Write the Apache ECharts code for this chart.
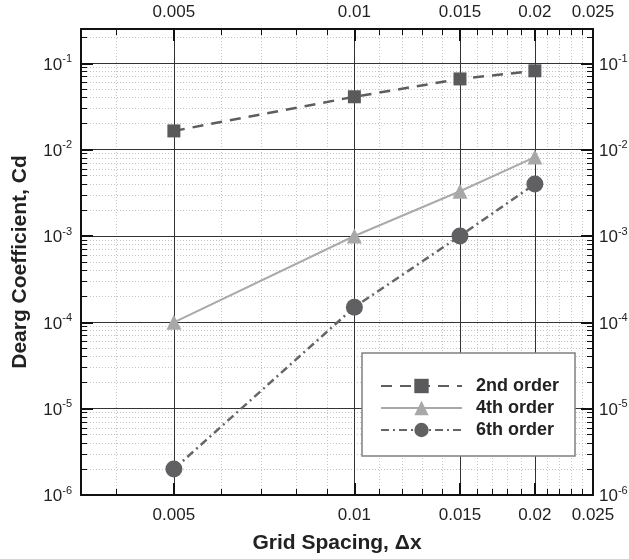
<!DOCTYPE html>
<html>
<head>
<meta charset="utf-8">
<script src="https://cdn.jsdelivr.net/npm/echarts@6/dist/echarts.min.js"></script>
<style>
  html, body { margin: 0; padding: 0; background: #fff; }
  #chart { width: 629px; height: 559px; }
</style>
</head>
<body>
<div id="chart"></div>
<script>
// ---- data ----
const gridSpacing = [0.005, 0.01, 0.015, 0.02];
const cd2nd = [0.0165, 0.041, 0.066, 0.082];
const cd4th = [0.0001, 0.001, 0.0033, 0.0082];
const cd6th = [0.000002, 0.00015, 0.001, 0.004];
const seriesNames = ['2nd order', '4th order', '6th order'];

// ---- axis ranges and ticks ----
const xRange = [0.0035, 0.025];
const yRange = [1e-6, 0.25];
const xLabelTicks = [0.005, 0.01, 0.015, 0.02, 0.025];
const xMinorTicks = [0.004, 0.006, 0.007, 0.008, 0.009, 0.011, 0.012, 0.013, 0.014,
                     0.016, 0.017, 0.018, 0.019, 0.021, 0.022, 0.023, 0.024];
const yDecades = [-6, -5, -4, -3, -2, -1];
const yMinorMantissas = [2, 3, 4, 5, 6, 7, 8, 9];

const lg = Math.log10;
const yMinorTicks = [];
yDecades.forEach(function (e) {
  yMinorMantissas.forEach(function (m) {
    const v = m * Math.pow(10, e);
    if (v <= yRange[1]) yMinorTicks.push(v);
  });
});

const xMajLog = xLabelTicks.map(lg);
const xMinLog = xMinorTicks.map(lg);
const yMajLog = yDecades.slice();
const yMinLog = yMinorTicks.map(lg);

const FONT = 'Liberation Sans, Arial, Helvetica, sans-serif';
const AX = '#111';
const MAJ_GRID = { show: true, lineStyle: { color: '#333', width: 1, type: 'solid' } };
const MIN_GRID = { show: true, lineStyle: { color: '#c4c4c4', width: 1, type: [1, 2] } };
const NO_GRID = { show: false };

function xFmt(v) { return String(Number(Math.pow(10, v).toPrecision(3))); }
function yFmt(v) { return '{b|10}{s|' + Math.round(v) + '}'; }
const yRich = {
  b: { fontSize: 17, fontFamily: FONT, color: '#222', verticalAlign: 'bottom', lineHeight: 20 },
  s: { fontSize: 11, fontFamily: FONT, color: '#222', verticalAlign: 'top', lineHeight: 11 }
};

function xDecor(pos, major, withLabels, withGrid, extra) {
  return Object.assign({
    type: 'value', gridIndex: 0, position: pos,
    min: lg(xRange[0]), max: lg(xRange[1]),
    axisLine: { show: major, onZero: false, lineStyle: { color: AX, width: 2 } },
    axisTick: { show: true, inside: true, length: major ? 12 : 6,
      customValues: major ? xMajLog : xMinLog,
      lineStyle: { color: AX, width: major ? 2 : 1 } },
    axisLabel: withLabels ? { show: true, customValues: xMajLog, formatter: xFmt,
      fontSize: 17, fontFamily: FONT, color: '#222', margin: pos === 'bottom' ? 12 : 8 } : { show: false },
    splitLine: withGrid ? (major ? MAJ_GRID : MIN_GRID) : NO_GRID,
    z: major ? 1 : 0
  }, extra || {});
}
function yDecor(pos, major, withLabels, withGrid, extra) {
  return Object.assign({
    type: 'value', gridIndex: 0, position: pos,
    min: lg(yRange[0]), max: lg(yRange[1]),
    axisLine: { show: major, onZero: false, lineStyle: { color: AX, width: 2 } },
    axisTick: { show: true, inside: true, length: major ? 12 : 6,
      customValues: major ? yMajLog : yMinLog,
      lineStyle: { color: AX, width: major ? 2 : 1 } },
    axisLabel: withLabels ? { show: true, customValues: yMajLog, formatter: yFmt,
      rich: yRich, margin: pos === 'left' ? 9 : 6 } : { show: false },
    splitLine: withGrid ? (major ? MAJ_GRID : MIN_GRID) : NO_GRID,
    z: major ? 1 : 0
  }, extra || {});
}

function pairs(ys) { return gridSpacing.map(function (x, i) { return [x, ys[i]]; }); }

const option = {
  animation: false,
  backgroundColor: '#fff',
  textStyle: { fontFamily: FONT },
  grid: { left: 81, right: 36, top: 29, bottom: 64, containLabel: false, outerBoundsMode: 'none', show: false },
  xAxis: [
    { type: 'log', logBase: 10, min: xRange[0], max: xRange[1], gridIndex: 0, show: false,
      axisLine: { show: false }, axisTick: { show: false }, axisLabel: { show: false }, splitLine: { show: false } },
    xDecor('bottom', false, false, true),
    xDecor('bottom', true, true, true, {
      name: 'Grid Spacing, \u0394x', nameLocation: 'middle', nameGap: 38,
      nameTextStyle: { fontSize: 21, fontWeight: 'bold', fontFamily: FONT, color: '#222' } }),
    xDecor('top', false, false, false),
    xDecor('top', true, true, false)
  ],
  yAxis: [
    { type: 'log', logBase: 10, min: yRange[0], max: yRange[1], gridIndex: 0, show: false,
      axisLine: { show: false }, axisTick: { show: false }, axisLabel: { show: false }, splitLine: { show: false } },
    yDecor('left', false, false, true),
    yDecor('left', true, true, true, {
      name: 'Dearg Coefficient, Cd', nameLocation: 'middle', nameGap: 50, nameRotate: 90,
      nameTextStyle: { fontSize: 21, fontWeight: 'bold', fontFamily: FONT, color: '#222' } }),
    yDecor('right', false, false, false),
    yDecor('right', true, true, false)
  ],
  legend: {
    data: seriesNames,
    orient: 'vertical',
    left: 362, top: 353,
    padding: [24, 16, 17, 18],
    itemWidth: 81, itemHeight: 18, itemGap: 4,
    backgroundColor: '#fff',
    borderColor: '#808080', borderWidth: 1.5, borderRadius: 0,
    textStyle: { fontSize: 18, fontWeight: 'bold', fontFamily: FONT, color: '#222', padding: [0, 0, 0, 9] }
  },
  series: [
    { name: seriesNames[0], type: 'line', xAxisIndex: 0, yAxisIndex: 0, data: pairs(cd2nd),
      symbol: 'rect', symbolSize: 13,
      lineStyle: { color: '#5e5e60', width: 2.5, type: [11, 8] },
      itemStyle: { color: '#5a5a5c' }, z: 5 },
    { name: seriesNames[1], type: 'line', xAxisIndex: 0, yAxisIndex: 0, data: pairs(cd4th),
      symbol: 'triangle', symbolSize: 15,
      lineStyle: { color: '#aaaaaa', width: 2, type: 'solid' },
      itemStyle: { color: '#a8a8a8' }, z: 5 },
    { name: seriesNames[2], type: 'line', xAxisIndex: 0, yAxisIndex: 0, data: pairs(cd6th),
      symbol: 'circle', symbolSize: 17,
      lineStyle: { color: '#666668', width: 2.5, type: [8, 4, 2, 4] },
      itemStyle: { color: '#606062' }, z: 5 }
  ]
};

const chart = echarts.init(document.getElementById('chart'), null, { renderer: 'canvas' });
chart.setOption(option);
</script>
</body>
</html>
